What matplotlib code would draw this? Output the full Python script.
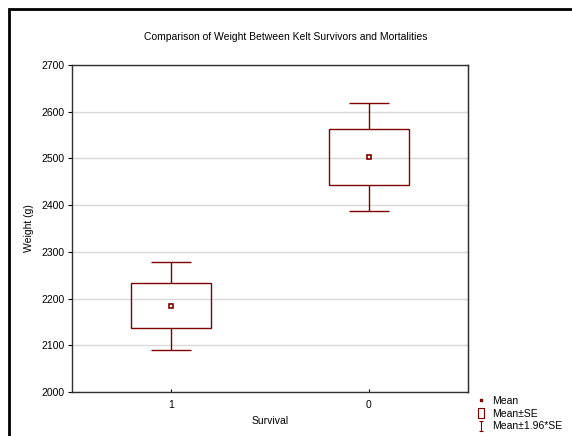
import numpy as np
import matplotlib.pyplot as plt
from matplotlib.patches import Rectangle
from matplotlib.lines import Line2D
from matplotlib.path import Path

plt.rcParams['font.family'] = ['Liberation Sans', 'DejaVu Sans']

groups = ['1', '0']
means = [2185, 2503]
se = [48, 59]
yticks = [2000, 2100, 2200, 2300, 2400, 2500, 2600, 2700]

col = '#800000'
x = np.arange(1, len(groups) + 1)
means = np.array(means)
se = np.array(se)
ci = 1.96 * se

fig = plt.figure(figsize=(5.72, 4.36), dpi=100)
ax = fig.add_axes([72 / 572, 1 - 392 / 436, 396 / 572, 327 / 436])

# outer frame of the graph window (right and bottom edges fall outside the image)
fig.patches.append(Rectangle((9 / 572, -0.2), 1.2, 1.2 - 9 / 436,
                             transform=fig.transFigure, fill=False,
                             edgecolor='black', lw=2, clip_on=False))

ax.grid(axis='y', color='#d9d9d9', lw=1)
ax.set_axisbelow(True)

ax.bar(x, 2 * se, bottom=means - se, width=0.404, fill=False,
       edgecolor=col, lw=1, zorder=3)
ax.vlines(x, means + se, means + ci, color=col, lw=1, zorder=3)
ax.vlines(x, means - ci, means - se, color=col, lw=1, zorder=3)
ax.hlines(means + ci, x - 0.1, x + 0.1, color=col, lw=1, zorder=3)
ax.hlines(means - ci, x - 0.1, x + 0.1, color=col, lw=1, zorder=3)
ax.plot(x, means, 's', ms=3, mfc='white', mec=col, mew=1.2, zorder=4)

ax.set_xlim(0.5, 2.5)
ax.set_ylim(2000, 2700)
ax.set_xticks(x)
ax.set_xticklabels(groups)
ax.set_yticks(yticks)
ax.tick_params(axis='y', direction='out', length=3, width=0.8, labelsize=7.5, pad=2)
ax.tick_params(axis='x', direction='in', length=2, width=0.8, labelsize=7.5, pad=6)
for s in ax.spines.values():
    s.set_color('#303030')
    s.set_linewidth(1)

sec = ax.secondary_yaxis('right')
sec.set_yticks(yticks)
sec.tick_params(direction='in', length=2, width=0.8, labelright=False)
sec.spines['right'].set_color('#303030')

ax.set_xlabel('Survival', fontsize=7.5, labelpad=4)
ax.set_ylabel('Weight (g)', fontsize=7.5)
ax.yaxis.set_label_coords(-0.096, 0.5)
fig.text(0.5, 1 - 37 / 436, 'Comparison of Weight Between Kelt Survivors and Mortalities',
         ha='center', va='center', fontsize=7.5)

ibar = Path([(-0.5, 1), (0.5, 1), (0, 1), (0, -1), (-0.5, -1), (0.5, -1)],
            [Path.MOVETO, Path.LINETO, Path.MOVETO, Path.LINETO, Path.MOVETO, Path.LINETO])
sebox = Path([(-0.35, -0.5), (0.35, -0.5), (0.35, 0.5), (-0.35, 0.5), (-0.35, -0.5)],
             [Path.MOVETO, Path.LINETO, Path.LINETO, Path.LINETO, Path.CLOSEPOLY])
handles = [
    Line2D([], [], ls='none', marker='s', ms=2, color=col),
    Line2D([], [], ls='none', marker=sebox, ms=7, mfc='none', mec=col, mew=0.8),
    Line2D([], [], ls='none', marker=ibar, ms=7, mfc='none', mec=col, mew=0.8),
]
fig.legend(handles, ['Mean', 'Mean±SE', 'Mean±1.96*SE'], loc='upper left',
           bbox_to_anchor=(476 / 572, 1 - 396 / 436), frameon=False, fontsize=7.5,
           handlelength=1.0, handletextpad=0.55, labelspacing=0.25, borderpad=0,
           borderaxespad=0)

fig.savefig('out.png', dpi=100)
